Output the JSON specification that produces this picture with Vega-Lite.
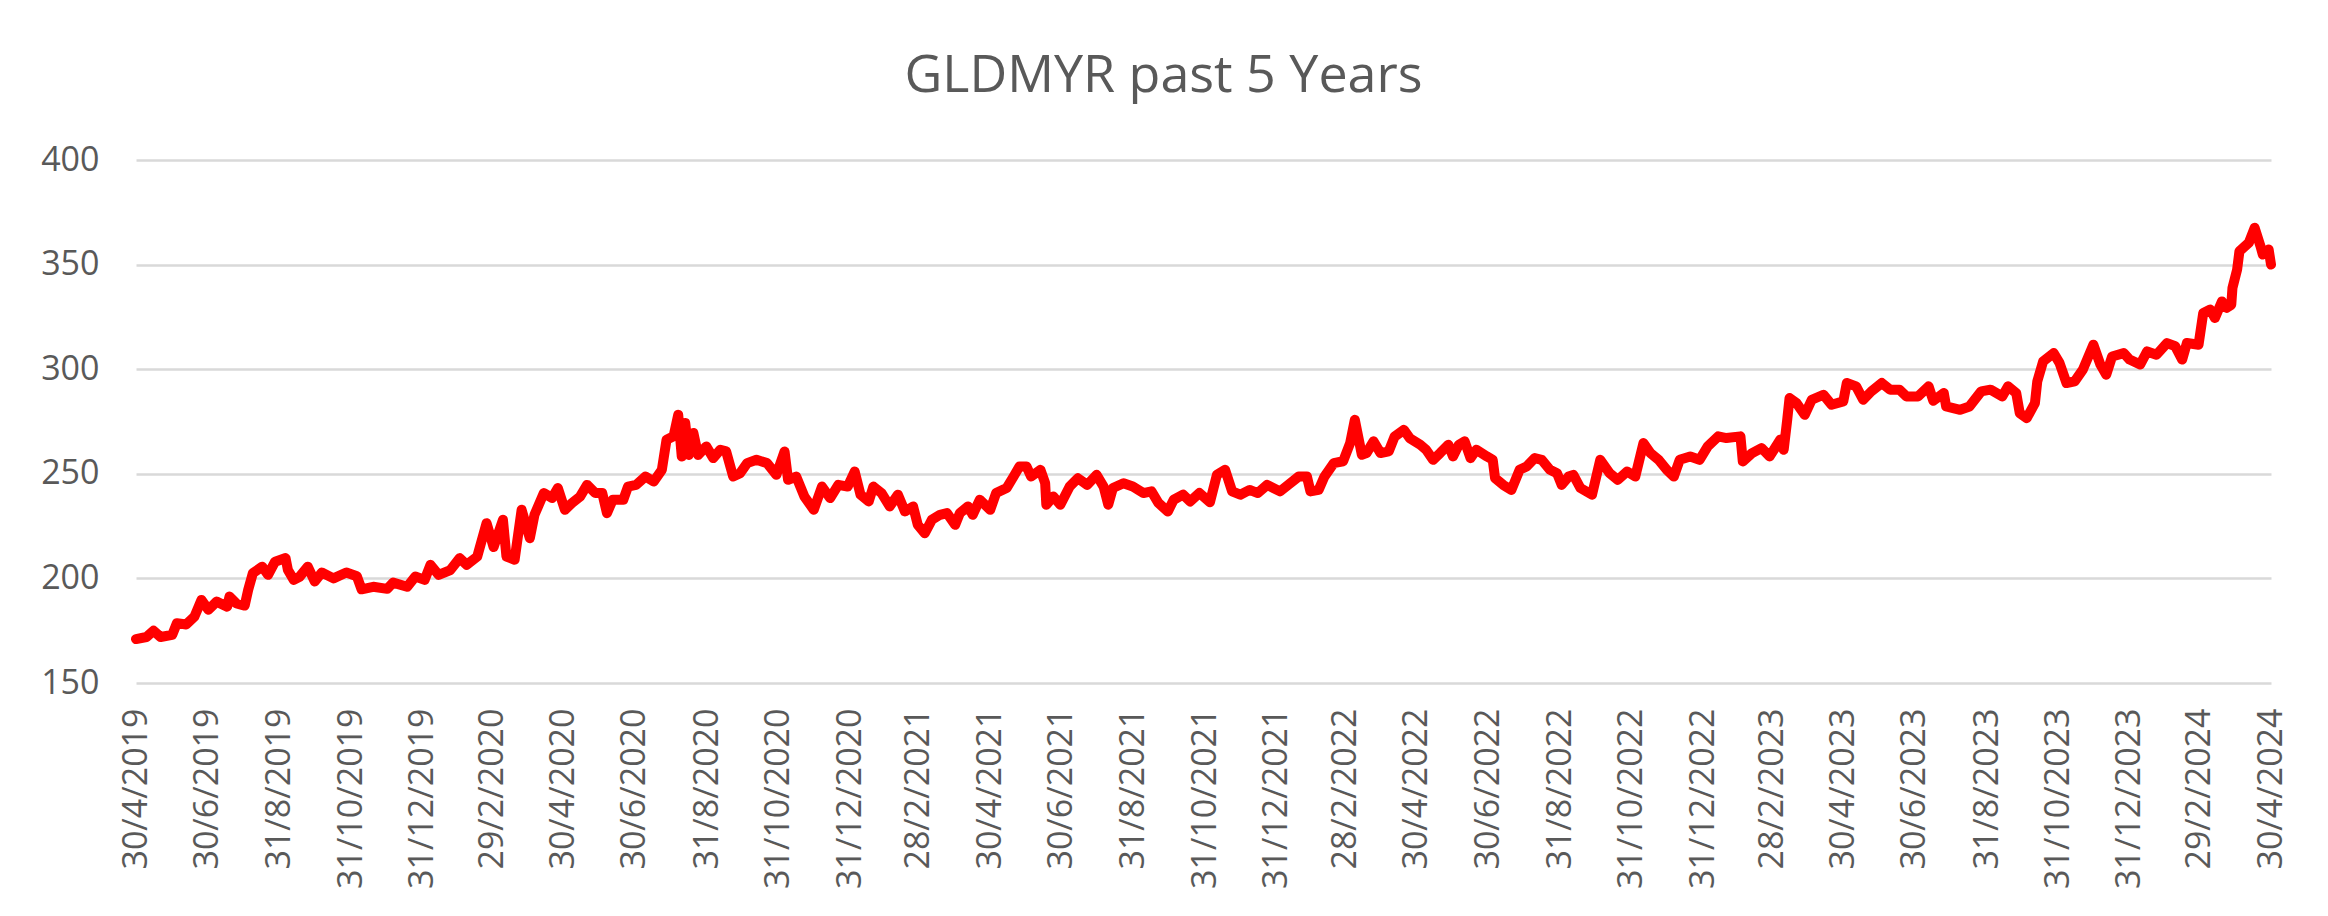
{
  "$schema": "https://vega.github.io/schema/vega-lite/v6.json",
  "autosize": {"type": "none"},
  "width": 2135,
  "height": 523,
  "padding": {"left": 136, "top": 160, "right": 57, "bottom": 233},
  "background": "#ffffff",
  "title": {
    "text": "GLDMYR past 5 Years",
    "font": "Open Sans",
    "fontSize": 52,
    "fontWeight": "normal",
    "color": "#595959",
    "anchor": "middle",
    "frame": "group",
    "baseline": "alphabetic",
    "offset": 67,
    "dx": -40,
    "dy": 68
  },
  "data": {
    "values": [
      {"date": "2019-04-30", "price": 171},
      {"date": "2019-05-09", "price": 172},
      {"date": "2019-05-15", "price": 175},
      {"date": "2019-05-21", "price": 172},
      {"date": "2019-05-31", "price": 173},
      {"date": "2019-06-04", "price": 178.6},
      {"date": "2019-06-12", "price": 178},
      {"date": "2019-06-19", "price": 181.7},
      {"date": "2019-06-25", "price": 189.7},
      {"date": "2019-07-01", "price": 185},
      {"date": "2019-07-08", "price": 188.9},
      {"date": "2019-07-17", "price": 186.5},
      {"date": "2019-07-19", "price": 191.3},
      {"date": "2019-07-25", "price": 188},
      {"date": "2019-08-01", "price": 187},
      {"date": "2019-08-04", "price": 194.5},
      {"date": "2019-08-08", "price": 202.5},
      {"date": "2019-08-16", "price": 205.6},
      {"date": "2019-08-21", "price": 201.7},
      {"date": "2019-08-27", "price": 208},
      {"date": "2019-09-05", "price": 209.7},
      {"date": "2019-09-07", "price": 204},
      {"date": "2019-09-12", "price": 199.3},
      {"date": "2019-09-17", "price": 200.8},
      {"date": "2019-09-24", "price": 205.6},
      {"date": "2019-09-30", "price": 198.5},
      {"date": "2019-10-06", "price": 202.8},
      {"date": "2019-10-16", "price": 200},
      {"date": "2019-10-27", "price": 202.8},
      {"date": "2019-11-05", "price": 201},
      {"date": "2019-11-09", "price": 194.8},
      {"date": "2019-11-19", "price": 196},
      {"date": "2019-12-01", "price": 195},
      {"date": "2019-12-06", "price": 198},
      {"date": "2019-12-18", "price": 196},
      {"date": "2019-12-25", "price": 200.9},
      {"date": "2020-01-02", "price": 199.3},
      {"date": "2020-01-07", "price": 206.5},
      {"date": "2020-01-14", "price": 201.7},
      {"date": "2020-01-24", "price": 204},
      {"date": "2020-02-01", "price": 209.7},
      {"date": "2020-02-07", "price": 206.5},
      {"date": "2020-02-16", "price": 210.4},
      {"date": "2020-02-24", "price": 226.4},
      {"date": "2020-03-01", "price": 215},
      {"date": "2020-03-09", "price": 228},
      {"date": "2020-03-12", "price": 210.4},
      {"date": "2020-03-19", "price": 208.9},
      {"date": "2020-03-25", "price": 232.8},
      {"date": "2020-04-01", "price": 219.2},
      {"date": "2020-04-05", "price": 230.4},
      {"date": "2020-04-13", "price": 240.8},
      {"date": "2020-04-20", "price": 238.4},
      {"date": "2020-04-25", "price": 243.2},
      {"date": "2020-05-01", "price": 232.8},
      {"date": "2020-05-07", "price": 236},
      {"date": "2020-05-14", "price": 239.1},
      {"date": "2020-05-20", "price": 244.7},
      {"date": "2020-05-27", "price": 240.8},
      {"date": "2020-06-02", "price": 240.8},
      {"date": "2020-06-06", "price": 231.2},
      {"date": "2020-06-11", "price": 237.6},
      {"date": "2020-06-20", "price": 237.6},
      {"date": "2020-06-24", "price": 243.9},
      {"date": "2020-07-01", "price": 244.7},
      {"date": "2020-07-09", "price": 248.7},
      {"date": "2020-07-16", "price": 246.3},
      {"date": "2020-07-23", "price": 251.9},
      {"date": "2020-07-27", "price": 266.3},
      {"date": "2020-08-02", "price": 267.9},
      {"date": "2020-08-06", "price": 278.2},
      {"date": "2020-08-09", "price": 258.3},
      {"date": "2020-08-12", "price": 274.3},
      {"date": "2020-08-15", "price": 259},
      {"date": "2020-08-19", "price": 269.5},
      {"date": "2020-08-23", "price": 259},
      {"date": "2020-08-30", "price": 263.1},
      {"date": "2020-09-05", "price": 257.5},
      {"date": "2020-09-11", "price": 261.5},
      {"date": "2020-09-16", "price": 260.7},
      {"date": "2020-09-22", "price": 248.7},
      {"date": "2020-09-28", "price": 250.3},
      {"date": "2020-10-04", "price": 255.1},
      {"date": "2020-10-12", "price": 256.7},
      {"date": "2020-10-21", "price": 255.1},
      {"date": "2020-10-29", "price": 249.5},
      {"date": "2020-11-05", "price": 260.7},
      {"date": "2020-11-08", "price": 247.1},
      {"date": "2020-11-15", "price": 248.7},
      {"date": "2020-11-22", "price": 239.1},
      {"date": "2020-11-30", "price": 232.8},
      {"date": "2020-12-07", "price": 243.9},
      {"date": "2020-12-14", "price": 238.4},
      {"date": "2020-12-21", "price": 244.7},
      {"date": "2020-12-29", "price": 243.9},
      {"date": "2021-01-04", "price": 251.1},
      {"date": "2021-01-09", "price": 240},
      {"date": "2021-01-16", "price": 236.8},
      {"date": "2021-01-20", "price": 243.9},
      {"date": "2021-01-27", "price": 240.8},
      {"date": "2021-02-03", "price": 234.4},
      {"date": "2021-02-10", "price": 240},
      {"date": "2021-02-16", "price": 232},
      {"date": "2021-02-23", "price": 234.4},
      {"date": "2021-02-27", "price": 225.6},
      {"date": "2021-03-05", "price": 221.6},
      {"date": "2021-03-11", "price": 228},
      {"date": "2021-03-18", "price": 230.4},
      {"date": "2021-03-24", "price": 231.2},
      {"date": "2021-03-31", "price": 225.6},
      {"date": "2021-04-04", "price": 231.2},
      {"date": "2021-04-11", "price": 234.4},
      {"date": "2021-04-15", "price": 230.4},
      {"date": "2021-04-21", "price": 237.6},
      {"date": "2021-04-30", "price": 232.8},
      {"date": "2021-05-05", "price": 240.8},
      {"date": "2021-05-14", "price": 243.2},
      {"date": "2021-05-20", "price": 248.7},
      {"date": "2021-05-25", "price": 253.5},
      {"date": "2021-05-31", "price": 253.5},
      {"date": "2021-06-04", "price": 248.7},
      {"date": "2021-06-12", "price": 251.9},
      {"date": "2021-06-16", "price": 245.5},
      {"date": "2021-06-17", "price": 235.2},
      {"date": "2021-06-23", "price": 239.1},
      {"date": "2021-06-29", "price": 235.2},
      {"date": "2021-07-07", "price": 243.9},
      {"date": "2021-07-14", "price": 247.9},
      {"date": "2021-07-22", "price": 244.7},
      {"date": "2021-07-30", "price": 249.5},
      {"date": "2021-08-05", "price": 243.9},
      {"date": "2021-08-09", "price": 235.2},
      {"date": "2021-08-13", "price": 243.2},
      {"date": "2021-08-22", "price": 245.5},
      {"date": "2021-08-30", "price": 243.9},
      {"date": "2021-09-08", "price": 240.8},
      {"date": "2021-09-15", "price": 241.6},
      {"date": "2021-09-21", "price": 236},
      {"date": "2021-09-29", "price": 232},
      {"date": "2021-10-04", "price": 237.6},
      {"date": "2021-10-12", "price": 240},
      {"date": "2021-10-18", "price": 236.8},
      {"date": "2021-10-26", "price": 240.8},
      {"date": "2021-11-04", "price": 236.4},
      {"date": "2021-11-10", "price": 249.5},
      {"date": "2021-11-17", "price": 251.9},
      {"date": "2021-11-23", "price": 241.6},
      {"date": "2021-11-30", "price": 240},
      {"date": "2021-12-08", "price": 242.3},
      {"date": "2021-12-15", "price": 240.8},
      {"date": "2021-12-23", "price": 244.7},
      {"date": "2022-01-03", "price": 241.6},
      {"date": "2022-01-10", "price": 244.7},
      {"date": "2022-01-19", "price": 248.7},
      {"date": "2022-01-26", "price": 248.7},
      {"date": "2022-01-29", "price": 241.6},
      {"date": "2022-02-05", "price": 242.3},
      {"date": "2022-02-10", "price": 248.7},
      {"date": "2022-02-18", "price": 255.1},
      {"date": "2022-02-26", "price": 256},
      {"date": "2022-03-04", "price": 264.7},
      {"date": "2022-03-08", "price": 275.8},
      {"date": "2022-03-14", "price": 259.1},
      {"date": "2022-03-18", "price": 259.9},
      {"date": "2022-03-24", "price": 265.5},
      {"date": "2022-03-30", "price": 259.9},
      {"date": "2022-04-06", "price": 260.7},
      {"date": "2022-04-11", "price": 267.8},
      {"date": "2022-04-19", "price": 271},
      {"date": "2022-04-24", "price": 267},
      {"date": "2022-05-03", "price": 263.9},
      {"date": "2022-05-08", "price": 261.5},
      {"date": "2022-05-14", "price": 256.7},
      {"date": "2022-05-20", "price": 259.9},
      {"date": "2022-05-27", "price": 263.9},
      {"date": "2022-05-31", "price": 258.3},
      {"date": "2022-06-05", "price": 263.9},
      {"date": "2022-06-10", "price": 265.5},
      {"date": "2022-06-15", "price": 257.5},
      {"date": "2022-06-20", "price": 261.5},
      {"date": "2022-06-29", "price": 258.3},
      {"date": "2022-07-04", "price": 256.7},
      {"date": "2022-07-06", "price": 247.9},
      {"date": "2022-07-13", "price": 244.7},
      {"date": "2022-07-20", "price": 242.3},
      {"date": "2022-07-27", "price": 251.9},
      {"date": "2022-08-02", "price": 253.5},
      {"date": "2022-08-09", "price": 257.5},
      {"date": "2022-08-15", "price": 256.7},
      {"date": "2022-08-22", "price": 251.9},
      {"date": "2022-08-28", "price": 250.3},
      {"date": "2022-09-01", "price": 244.7},
      {"date": "2022-09-07", "price": 248.7},
      {"date": "2022-09-11", "price": 249.5},
      {"date": "2022-09-17", "price": 243.2},
      {"date": "2022-09-27", "price": 240},
      {"date": "2022-10-04", "price": 256.7},
      {"date": "2022-10-12", "price": 250.3},
      {"date": "2022-10-19", "price": 247.1},
      {"date": "2022-10-27", "price": 251.1},
      {"date": "2022-11-03", "price": 248.7},
      {"date": "2022-11-10", "price": 264.7},
      {"date": "2022-11-16", "price": 259.9},
      {"date": "2022-11-23", "price": 256.7},
      {"date": "2022-11-30", "price": 251.9},
      {"date": "2022-12-06", "price": 248.7},
      {"date": "2022-12-11", "price": 256.7},
      {"date": "2022-12-20", "price": 258.3},
      {"date": "2022-12-28", "price": 256.7},
      {"date": "2023-01-04", "price": 263.1},
      {"date": "2023-01-13", "price": 267.9},
      {"date": "2023-01-20", "price": 267.1},
      {"date": "2023-02-01", "price": 267.9},
      {"date": "2023-02-03", "price": 255.9},
      {"date": "2023-02-11", "price": 259.9},
      {"date": "2023-02-19", "price": 262.3},
      {"date": "2023-02-26", "price": 258.3},
      {"date": "2023-03-07", "price": 266.3},
      {"date": "2023-03-10", "price": 261.5},
      {"date": "2023-03-13", "price": 275.8},
      {"date": "2023-03-15", "price": 286.2},
      {"date": "2023-03-21", "price": 283.8},
      {"date": "2023-03-28", "price": 278.2},
      {"date": "2023-04-03", "price": 285.4},
      {"date": "2023-04-13", "price": 287.8},
      {"date": "2023-04-20", "price": 283},
      {"date": "2023-04-30", "price": 284.6},
      {"date": "2023-05-03", "price": 293.4},
      {"date": "2023-05-11", "price": 291.8},
      {"date": "2023-05-17", "price": 285.4},
      {"date": "2023-05-24", "price": 289.4},
      {"date": "2023-06-02", "price": 293.4},
      {"date": "2023-06-09", "price": 290.2},
      {"date": "2023-06-17", "price": 290.2},
      {"date": "2023-06-23", "price": 287},
      {"date": "2023-07-03", "price": 287},
      {"date": "2023-07-12", "price": 291.8},
      {"date": "2023-07-16", "price": 284.9},
      {"date": "2023-07-25", "price": 288.6},
      {"date": "2023-07-27", "price": 282.2},
      {"date": "2023-08-08", "price": 280.6},
      {"date": "2023-08-16", "price": 282.2},
      {"date": "2023-08-26", "price": 289.4},
      {"date": "2023-09-03", "price": 290.2},
      {"date": "2023-09-13", "price": 287},
      {"date": "2023-09-18", "price": 291.8},
      {"date": "2023-09-25", "price": 288.6},
      {"date": "2023-09-28", "price": 279},
      {"date": "2023-10-04", "price": 276.6},
      {"date": "2023-10-11", "price": 283.8},
      {"date": "2023-10-13", "price": 294.2},
      {"date": "2023-10-18", "price": 303.7},
      {"date": "2023-10-27", "price": 307.7},
      {"date": "2023-11-01", "price": 303},
      {"date": "2023-11-07", "price": 293.4},
      {"date": "2023-11-14", "price": 294.2},
      {"date": "2023-11-21", "price": 299.8},
      {"date": "2023-11-30", "price": 311.7},
      {"date": "2023-12-06", "price": 302.2},
      {"date": "2023-12-11", "price": 297.4},
      {"date": "2023-12-16", "price": 306.1},
      {"date": "2023-12-26", "price": 307.7},
      {"date": "2023-12-31", "price": 304.6},
      {"date": "2024-01-09", "price": 302.2},
      {"date": "2024-01-15", "price": 308.5},
      {"date": "2024-01-23", "price": 306.9},
      {"date": "2024-02-01", "price": 312.5},
      {"date": "2024-02-08", "price": 311},
      {"date": "2024-02-14", "price": 304.6},
      {"date": "2024-02-18", "price": 312.5},
      {"date": "2024-02-28", "price": 311.7},
      {"date": "2024-03-03", "price": 326.9},
      {"date": "2024-03-09", "price": 328.5},
      {"date": "2024-03-13", "price": 324.5},
      {"date": "2024-03-19", "price": 332.4},
      {"date": "2024-03-23", "price": 329.3},
      {"date": "2024-03-27", "price": 330.8},
      {"date": "2024-03-28", "price": 338.8},
      {"date": "2024-04-01", "price": 347.6},
      {"date": "2024-04-03", "price": 356.4},
      {"date": "2024-04-11", "price": 360.4},
      {"date": "2024-04-16", "price": 367.6},
      {"date": "2024-04-21", "price": 358.8},
      {"date": "2024-04-23", "price": 354.8},
      {"date": "2024-04-28", "price": 357.2},
      {"date": "2024-04-30", "price": 350}
    ]
  },
  "mark": {
    "type": "line",
    "color": "#ff0000",
    "strokeWidth": 10,
    "strokeJoin": "round",
    "strokeCap": "round",
    "clip": false
  },
  "encoding": {
    "x": {
      "field": "date",
      "type": "temporal",
      "title": null,
      "scale": {
        "type": "utc",
        "domain": [
          {"year": 2019, "month": 4, "date": 30, "utc": true},
          {"year": 2024, "month": 4, "date": 30, "utc": true}
        ],
        "nice": false
      },
      "axis": {
        "values": [
          {"year": 2019, "month": 4, "date": 30, "utc": true},
          {"year": 2019, "month": 6, "date": 30, "utc": true},
          {"year": 2019, "month": 8, "date": 31, "utc": true},
          {"year": 2019, "month": 10, "date": 31, "utc": true},
          {"year": 2019, "month": 12, "date": 31, "utc": true},
          {"year": 2020, "month": 2, "date": 29, "utc": true},
          {"year": 2020, "month": 4, "date": 30, "utc": true},
          {"year": 2020, "month": 6, "date": 30, "utc": true},
          {"year": 2020, "month": 8, "date": 31, "utc": true},
          {"year": 2020, "month": 10, "date": 31, "utc": true},
          {"year": 2020, "month": 12, "date": 31, "utc": true},
          {"year": 2021, "month": 2, "date": 28, "utc": true},
          {"year": 2021, "month": 4, "date": 30, "utc": true},
          {"year": 2021, "month": 6, "date": 30, "utc": true},
          {"year": 2021, "month": 8, "date": 31, "utc": true},
          {"year": 2021, "month": 10, "date": 31, "utc": true},
          {"year": 2021, "month": 12, "date": 31, "utc": true},
          {"year": 2022, "month": 2, "date": 28, "utc": true},
          {"year": 2022, "month": 4, "date": 30, "utc": true},
          {"year": 2022, "month": 6, "date": 30, "utc": true},
          {"year": 2022, "month": 8, "date": 31, "utc": true},
          {"year": 2022, "month": 10, "date": 31, "utc": true},
          {"year": 2022, "month": 12, "date": 31, "utc": true},
          {"year": 2023, "month": 2, "date": 28, "utc": true},
          {"year": 2023, "month": 4, "date": 30, "utc": true},
          {"year": 2023, "month": 6, "date": 30, "utc": true},
          {"year": 2023, "month": 8, "date": 31, "utc": true},
          {"year": 2023, "month": 10, "date": 31, "utc": true},
          {"year": 2023, "month": 12, "date": 31, "utc": true},
          {"year": 2024, "month": 2, "date": 29, "utc": true},
          {"year": 2024, "month": 4, "date": 30, "utc": true}
        ],
        "labelExpr": "utcFormat(datum.value, '%-d/%-m/%Y')",
        "labelAngle": -90,
        "labelPadding": 25,
        "labelFont": "Open Sans",
        "labelFontSize": 34,
        "labelColor": "#595959",
        "labelLimit": 0,
        "labelOverlap": false,
        "labelFlush": false,
        "labelBound": false,
        "grid": false,
        "domain": false,
        "ticks": false
      }
    },
    "y": {
      "field": "price",
      "type": "quantitative",
      "title": null,
      "scale": {"domain": [150, 400], "nice": false, "zero": false},
      "axis": {
        "values": [150, 200, 250, 300, 350, 400],
        "labelFont": "Open Sans",
        "labelFontSize": 34,
        "labelColor": "#595959",
        "labelPadding": 37,
        "grid": true,
        "gridColor": "#d9d9d9",
        "gridWidth": 2.5,
        "domain": false,
        "ticks": false
      }
    }
  },
  "config": {
    "view": {"stroke": null}
  }
}
